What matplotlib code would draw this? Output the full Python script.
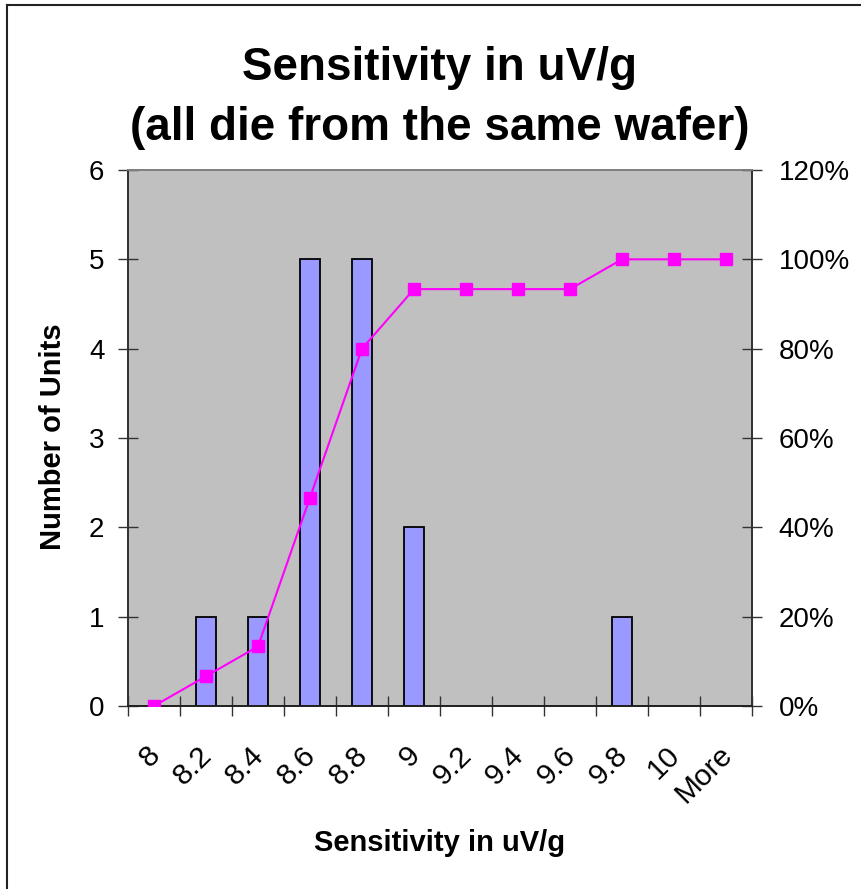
import matplotlib
matplotlib.use("Agg")
import matplotlib.pyplot as plt
import numpy as np
from matplotlib import font_manager
from matplotlib.ticker import FixedLocator, PercentFormatter
from matplotlib.lines import Line2D

plt.rcParams['font.family'] = ['Liberation Sans', 'DejaVu Sans']

# Histogram data
bins = ['8', '8.2', '8.4', '8.6', '8.8', '9', '9.2', '9.4', '9.6', '9.8', '10', 'More']
counts = [0, 1, 1, 5, 5, 2, 0, 0, 0, 1, 0, 0]
cumulative_pct = [0.0, 6.67, 13.33, 46.67, 80.0, 93.33, 93.33, 93.33, 93.33, 100.0, 100.0, 100.0]

# title font: narrow if available (excel title looks condensed)
installed = {f.name for f in font_manager.fontManager.ttflist}
if 'Liberation Sans Narrow' in installed:
    title_family, title_size = ['Liberation Sans Narrow', 'Liberation Sans'], 38
else:
    title_family, title_size = ['Liberation Sans', 'DejaVu Sans'], 33

fig = plt.figure(figsize=(8.61, 8.89), dpi=100)
ax = fig.add_axes([128 / 861, 1 - 706 / 889, 624 / 861, 536 / 889])
ax2 = ax.twinx()

x = np.arange(len(bins))
ax.set_facecolor('#C0C0C0')
ax.bar(x, counts, width=0.38, color='#9999FF', edgecolor='black', linewidth=1.3, zorder=2)
ax2.plot(x, cumulative_pct, color='#FF00FF', linewidth=1.5, marker='s', markersize=8,
         markerfacecolor='#FF00FF', markeredgecolor='#FF00FF', zorder=3)

ax.set_xlim(-0.5, len(bins) - 0.5)
ax.set_ylim(0, 6)
ax2.set_ylim(0, 120)

ax.set_yticks(range(0, 7))
ax2.set_yticks(range(0, 121, 20))
ax2.yaxis.set_major_formatter(PercentFormatter(decimals=0))

# boundary ticks, labels at centers
ax.xaxis.set_major_locator(FixedLocator(np.arange(-0.5, len(bins), 1.0)))
ax.set_xticklabels([])
ax.set_xticks(x - 0.16, minor=True)
ax.set_xticklabels(bins, minor=True, rotation=45, ha='right', va='top',
                   rotation_mode='anchor', fontsize=21.5)
ax.tick_params(axis='x', which='minor', length=0, pad=25)
ax.tick_params(axis='x', which='major', direction='inout', length=14, width=1, color='#333333')
ax.tick_params(axis='y', direction='inout', length=14, width=1, labelsize=20, pad=10, color='#333333')
ax2.tick_params(axis='y', direction='inout', length=14, width=1, labelsize=20, pad=12, color='#333333')

for a in (ax, ax2):
    a.spines['top'].set_color('#808080')
    a.spines['left'].set_color('#333333')
    a.spines['right'].set_color('#333333')
    a.spines['bottom'].set_color('#222222')
    for s in a.spines.values():
        s.set_linewidth(1.3)

fig.text(53 / 861, 1 - 437 / 889, 'Number of Units', rotation=90, ha='center', va='center',
         fontsize=21, fontweight='bold')
fig.text(440 / 861, 1 - 843 / 889, 'Sensitivity in uV/g', ha='center', va='center',
         fontsize=21, fontweight='bold')

fig.text(440 / 861, 1 - 68 / 889, 'Sensitivity in uV/g', ha='center', va='center',
         fontsize=title_size, fontweight='bold', family=title_family)
fig.text(440 / 861, 1 - 128 / 889, '(all die from the same wafer)', ha='center', va='center',
         fontsize=title_size, fontweight='bold', family=title_family)

# chart area border (left and top visible)
fig.add_artist(Line2D([7 / 861, 7 / 861], [0, 1 - 5 / 889], transform=fig.transFigure,
                      color='#222222', linewidth=1.5))
fig.add_artist(Line2D([7 / 861, 1], [1 - 5 / 889, 1 - 5 / 889], transform=fig.transFigure,
                      color='#222222', linewidth=1.5))

fig.savefig('out.png', dpi=100)
